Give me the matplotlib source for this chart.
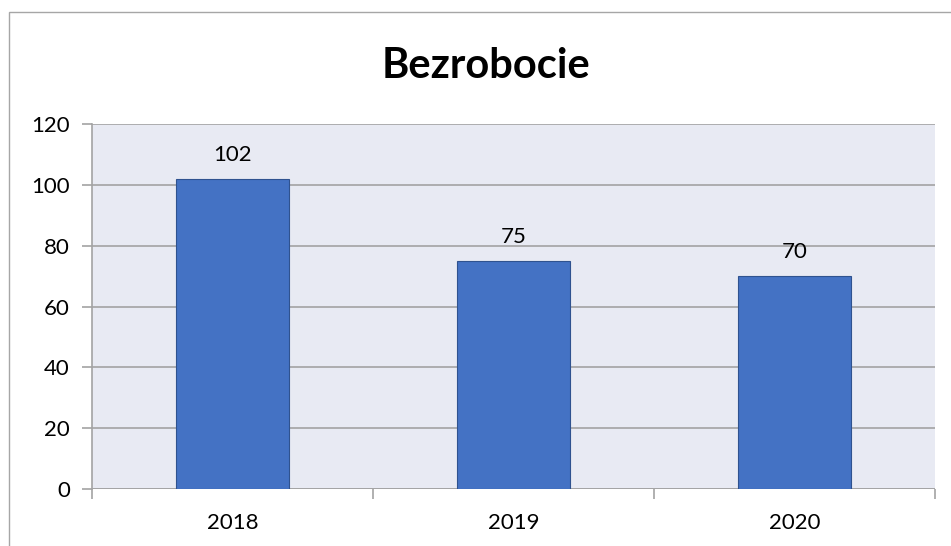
import matplotlib
matplotlib.use("Agg")
import matplotlib.pyplot as plt
from matplotlib.patches import Rectangle

categories = ["2018", "2019", "2020"]
values = [102, 75, 70]
yticks = [0, 20, 40, 60, 80, 100, 120]
title = "Bezrobocie"

plt.rcParams['font.family'] = ['Lato', 'DejaVu Sans']

W, H = 951, 546
fig = plt.figure(figsize=(W/100, H/100), dpi=100)
ax = fig.add_axes([92/W, 1-489/H, (935-92)/W, (489-124)/H])
ax.set_facecolor('#E8EAF3')

x = list(range(len(categories)))
bars = ax.bar(x, values, width=0.4, color='#4472C4', edgecolor='#2F528F', linewidth=0.8, zorder=3)
for xi, v in zip(x, values):
    ax.annotate(str(v), (xi, v), xytext=(0, 13), textcoords='offset points',
                ha='center', va='baseline', fontsize=16, color='black', zorder=4)

ax.set_xlim(-0.5, len(categories)-0.5)
ax.set_ylim(0, 120)
ax.set_yticks(yticks)
ax.set_yticklabels([str(t) for t in yticks], fontsize=16)
ax.yaxis.grid(True, color='#A3A3A3', linewidth=1.2, zorder=1)
ax.set_axisbelow(True)
ax.set_xticks(x)
ax.set_xticklabels(categories, fontsize=16)
ax.tick_params(axis='x', length=0, pad=17)
ax.tick_params(axis='y', length=7, color='#A3A3A3', width=1.2, pad=9)
# category boundary ticks
ax.set_xticks([i - 0.5 for i in range(len(categories)+1)], minor=True)
ax.tick_params(axis='x', which='minor', length=7, color='#A3A3A3', width=1.2)
for s in ['top', 'right', 'bottom']:
    ax.spines[s].set_visible(False)
ax.spines['left'].set_color('#A3A3A3')
ax.spines['left'].set_linewidth(1.2)
ax.axhline(0, color='#A3A3A3', linewidth=1.2, zorder=2)

fig.text(485.5/W, 1-78/H, title, ha='center', va='baseline', fontsize=30, fontweight='bold')

border = Rectangle((9/W, -0.1), 1.2, 1-11.5/H+0.1, transform=fig.transFigure,
                   fill=False, edgecolor='#A6A6A6', linewidth=1.0, clip_on=False)
fig.patches.append(border)

fig.savefig("out.png", dpi=100)
